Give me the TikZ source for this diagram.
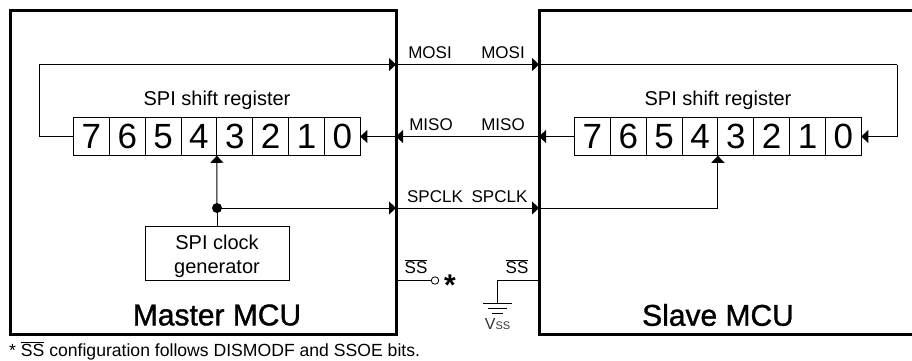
\documentclass[tikz,border=0pt]{standalone}
\usepackage{fontspec}
\setmainfont{Liberation Sans}
\newfontfamily\titlefont[FakeBold=1.2]{Liberation Sans}
\usetikzlibrary{arrows.meta}
\tikzset{
  mcu/.style={draw,line width=3pt,minimum width=#1,minimum height=323.5pt,inner sep=0,outer sep=0,anchor=north west},
  cellbox/.style={draw,line width=1pt,minimum width=35.85pt,minimum height=38.5pt,inner sep=0,outer sep=0,anchor=west,font=\fontsize{35}{35}\selectfont},
  wire/.style={line width=1pt},
  arr/.style={wire,-{Triangle[length=7pt,width=13pt]}},
  lab/.style={font=\fontsize{17}{19}\selectfont,inner sep=0},
  title/.style={font=\titlefont\fontsize{30}{32}\selectfont,inner sep=0},
  regtitle/.style={font=\fontsize{20}{22}\selectfont,inner sep=0},
  gnd/.style={line width=1pt},
}
\newcommand{\ssbar}{$\overline{\mbox{SS}}$}
\begin{document}
\begin{tikzpicture}[x=1pt,y=-1pt]
\useasboundingbox (0,0) rectangle (912,360);
\node[mcu=386pt] (master) at (10,10.5) {};
\node[mcu=385pt] (slave) at (539,10.5) {};
% registers
\foreach \d [count=\i from 0] in {7,6,5,4,3,2,1,0}{
  \node[cellbox] (m\d) at ({73.5+\i*35.85},136.5) {\d};
  \node[cellbox] (s\d) at ({574.5+\i*35.85},136.5) {\d};
}
\node[regtitle] (mrt) at (217,100) {SPI shift register};
\node[regtitle] (srt) at (718,100) {SPI shift register};
% MOSI
\coordinate (mtl) at (39,64.5);
\coordinate (mpo) at (396,64.5);
\coordinate (spi) at (539,64.5);
\coordinate (str) at (897,64.5);
\coordinate (mpi) at (396,136.5);
\coordinate (spo) at (539,136.5);
\draw[arr] (m7.west) -| (mtl) -- (mpo);
\draw[arr] (mpo) -- (spi);
\draw[wire] (spi) -- (str);
\draw[arr] (str) |- (s0.east);
% MISO
\draw[arr] (s7.west) -- (spo);
\draw[arr] (spo) -- (mpi);
\draw[arr] (mpi) -- (m0.east);
\node[lab] (l1) at (430,53) {MOSI};
\node[lab] (l2) at (503,53) {MOSI};
\node[lab] (l3) at (431,125) {MISO};
\node[lab] (l4) at (503,125) {MISO};
\node[lab] (l5) at (435,197) {SPCLK};
\node[lab] (l6) at (499.5,197) {SPCLK};
% clock
\node[draw,line width=1pt,minimum width=144pt,minimum height=54.5pt,inner sep=0,align=center,font=\fontsize{20}{24}\selectfont] (clk) at (217,253.5) {\rule{0pt}{20pt}SPI clock\\generator};
\coordinate (dot) at (217,208);
\coordinate (mck) at (396,208);
\coordinate (sck) at (539,208);
\draw[wire] (clk.north) -- (dot);
\draw[arr] (dot) -- (m4.south east);
\draw[arr] (dot) -- (mck);
\draw[arr] (mck) -- (sck);
\draw[arr] (sck) -| (s4.south east);
\fill (dot) circle (5pt);
% SS master
\node[draw,circle,line width=0.8pt,minimum size=7.5pt,inner sep=0] (oc) at (435,280.5) {};
\draw[wire] (396,280.5) coordinate (mss) -- (oc.west);
\node[lab] (l7) at (416,267) {\ssbar};
\node[font=\bfseries\fontsize{30}{30}\selectfont,inner sep=0] (star) at (450,285) {*};
% SS slave
\node[lab] (l8) at (517,267) {\ssbar};
\coordinate (sss) at (539,280.5);
\coordinate (g) at (497,303.5);
\draw[wire] (sss) -| (g);
\draw[gnd] (483,303.5) coordinate (g1a) -- (512,303.5) coordinate (g1b);
\draw[gnd] (488,308.5) coordinate (g2a) -- (507,308.5) coordinate (g2b);
\draw[gnd] (492,313) coordinate (g3a) -- (503,313) coordinate (g3b);
\node[inner sep=0,text=black!80,font=\fontsize{16}{16}\selectfont] (vss) at (497.5,324.5) {V{\fontsize{11}{12}\selectfont SS}};
\node[title] (mt) at (217,315) {Master MCU};
\node[title] (st) at (718,315) {Slave MCU};
\node[inner sep=0,anchor=west,font=\fontsize{17.6}{20}\selectfont] (foot) at (9,351) {* \ssbar{} configuration follows DISMODF and SSOE bits.};
\end{tikzpicture}
\end{document}
